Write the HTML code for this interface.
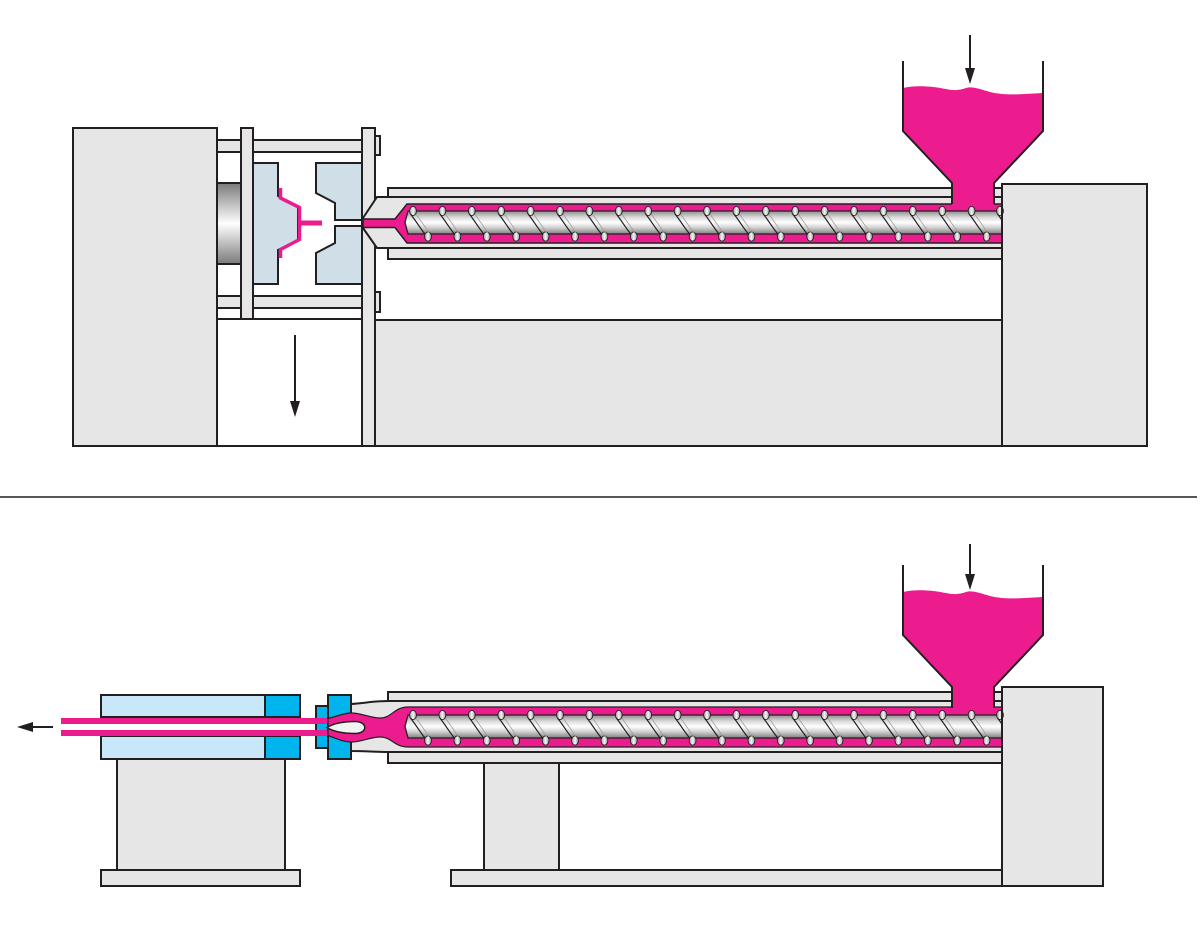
<!DOCTYPE html>
<html><head><meta charset="utf-8"><style>
html,body{margin:0;padding:0;background:#fff;}
svg{display:block;}
</style></head><body>
<svg width="1200" height="935" viewBox="0 0 1200 935" xmlns="http://www.w3.org/2000/svg">
<defs>
<linearGradient id="scr" x1="0" y1="0" x2="0" y2="1">
<stop offset="0" stop-color="#8c8c8c"/><stop offset="0.28" stop-color="#dcdcdc"/><stop offset="0.5" stop-color="#ffffff"/><stop offset="0.72" stop-color="#d2d2d2"/><stop offset="1" stop-color="#808080"/>
</linearGradient>
<linearGradient id="cyl" x1="0" y1="0" x2="0" y2="1">
<stop offset="0" stop-color="#7a7a7a"/><stop offset="0.5" stop-color="#ffffff"/><stop offset="1" stop-color="#7a7a7a"/>
</linearGradient>
<linearGradient id="tip" x1="0" y1="0" x2="1" y2="0">
<stop offset="0" stop-color="#9a9a9a"/><stop offset="0.5" stop-color="#f4f4f4"/><stop offset="1" stop-color="#9a9a9a"/>
</linearGradient>
<g id="screw">
<path d="M408,211 L1002,211 L1002,234 L408,234 L405,222.5 Z" fill="url(#scr)" stroke="#231f20" stroke-width="1.3"/>
<g stroke="#231f20" stroke-width="0.9" fill="url(#tip)">
<ellipse cx="413" cy="211" rx="3.4" ry="4.6"/><ellipse cx="428" cy="236.5" rx="3.4" ry="4.6"/>
<ellipse cx="442.4" cy="211" rx="3.4" ry="4.6"/><ellipse cx="457.4" cy="236.5" rx="3.4" ry="4.6"/>
<ellipse cx="471.8" cy="211" rx="3.4" ry="4.6"/><ellipse cx="486.8" cy="236.5" rx="3.4" ry="4.6"/>
<ellipse cx="501.2" cy="211" rx="3.4" ry="4.6"/><ellipse cx="516.2" cy="236.5" rx="3.4" ry="4.6"/>
<ellipse cx="530.6" cy="211" rx="3.4" ry="4.6"/><ellipse cx="545.6" cy="236.5" rx="3.4" ry="4.6"/>
<ellipse cx="560" cy="211" rx="3.4" ry="4.6"/><ellipse cx="575" cy="236.5" rx="3.4" ry="4.6"/>
<ellipse cx="589.4" cy="211" rx="3.4" ry="4.6"/><ellipse cx="604.4" cy="236.5" rx="3.4" ry="4.6"/>
<ellipse cx="618.8" cy="211" rx="3.4" ry="4.6"/><ellipse cx="633.8" cy="236.5" rx="3.4" ry="4.6"/>
<ellipse cx="648.2" cy="211" rx="3.4" ry="4.6"/><ellipse cx="663.2" cy="236.5" rx="3.4" ry="4.6"/>
<ellipse cx="677.6" cy="211" rx="3.4" ry="4.6"/><ellipse cx="692.6" cy="236.5" rx="3.4" ry="4.6"/>
<ellipse cx="707" cy="211" rx="3.4" ry="4.6"/><ellipse cx="722" cy="236.5" rx="3.4" ry="4.6"/>
<ellipse cx="736.4" cy="211" rx="3.4" ry="4.6"/><ellipse cx="751.4" cy="236.5" rx="3.4" ry="4.6"/>
<ellipse cx="765.8" cy="211" rx="3.4" ry="4.6"/><ellipse cx="780.8" cy="236.5" rx="3.4" ry="4.6"/>
<ellipse cx="795.2" cy="211" rx="3.4" ry="4.6"/><ellipse cx="810.2" cy="236.5" rx="3.4" ry="4.6"/>
<ellipse cx="824.6" cy="211" rx="3.4" ry="4.6"/><ellipse cx="839.6" cy="236.5" rx="3.4" ry="4.6"/>
<ellipse cx="854" cy="211" rx="3.4" ry="4.6"/><ellipse cx="869" cy="236.5" rx="3.4" ry="4.6"/>
<ellipse cx="883.4" cy="211" rx="3.4" ry="4.6"/><ellipse cx="898.4" cy="236.5" rx="3.4" ry="4.6"/>
<ellipse cx="912.8" cy="211" rx="3.4" ry="4.6"/><ellipse cx="927.8" cy="236.5" rx="3.4" ry="4.6"/>
<ellipse cx="942.2" cy="211" rx="3.4" ry="4.6"/><ellipse cx="957.2" cy="236.5" rx="3.4" ry="4.6"/>
<ellipse cx="971.6" cy="211" rx="3.4" ry="4.6"/><ellipse cx="986.6" cy="236.5" rx="3.4" ry="4.6"/>
<ellipse cx="1000" cy="211" rx="3.4" ry="4.6"/>
</g>
<g stroke="#231f20" stroke-width="1.2" fill="none">
<path d="M410.5,214 C416,221 420,228 425,234"/><path d="M439.9,214 C445.4,221 449.4,228 454.4,234"/>
<path d="M469.3,214 C474.8,221 478.8,228 483.8,234"/><path d="M498.7,214 C504.2,221 508.2,228 513.2,234"/>
<path d="M528.1,214 C533.6,221 537.6,228 542.6,234"/><path d="M557.5,214 C563,221 567,228 572,234"/>
<path d="M586.9,214 C592.4,221 596.4,228 601.4,234"/><path d="M616.3,214 C621.8,221 625.8,228 630.8,234"/>
<path d="M645.7,214 C651.2,221 655.2,228 660.2,234"/><path d="M675.1,214 C680.6,221 684.6,228 689.6,234"/>
<path d="M704.5,214 C710,221 714,228 719,234"/><path d="M733.9,214 C739.4,221 743.4,228 748.4,234"/>
<path d="M763.3,214 C768.8,221 772.8,228 777.8,234"/><path d="M792.7,214 C798.2,221 802.2,228 807.2,234"/>
<path d="M822.1,214 C827.6,221 831.6,228 836.6,234"/><path d="M851.5,214 C857,221 861,228 866,234"/>
<path d="M880.9,214 C886.4,221 890.4,228 895.4,234"/><path d="M910.3,214 C915.8,221 919.8,228 924.8,234"/>
<path d="M939.7,214 C945.2,221 949.2,228 954.2,234"/><path d="M969.1,214 C974.6,221 978.6,228 983.6,234"/>
<path d="M997.5,214 C1000,217 1001,219 1002,220"/>
</g>
<g stroke="#9a9a9a" stroke-width="0.7" fill="none">
<path d="M416,214 L430,234"/><path d="M445.4,214 L459.4,234"/><path d="M474.8,214 L488.8,234"/><path d="M504.2,214 L518.2,234"/>
<path d="M533.6,214 L547.6,234"/><path d="M563,214 L577,234"/><path d="M592.4,214 L606.4,234"/><path d="M621.8,214 L635.8,234"/>
<path d="M651.2,214 L665.2,234"/><path d="M680.6,214 L694.6,234"/><path d="M710,214 L724,234"/><path d="M739.4,214 L753.4,234"/>
<path d="M768.8,214 L782.8,234"/><path d="M798.2,214 L812.2,234"/><path d="M827.6,214 L841.6,234"/><path d="M857,214 L871,234"/>
<path d="M886.4,214 L900.4,234"/><path d="M915.8,214 L929.8,234"/><path d="M945.2,214 L959.2,234"/><path d="M974.6,214 L988.6,234"/>
</g>
</g>
<g id="hopper">
<path d="M903,88 C915,85 932,86 946,89 C955,91 960,90 966,88 C972,86 980,89 990,92 C1005,96 1025,94 1043,93 L1043,131 L994,183 L994,205 L952,205 L952,183 L903,131 Z" fill="#ec1c8f"/>
<path d="M903,61 L903,131 L952,183 L952,204 M1043,61 L1043,131 L994,183 L994,204" fill="none" stroke="#231f20" stroke-width="2"/>
</g>
</defs>

<g stroke="#231f20" stroke-width="2">
<!-- ================= TOP ================= -->
<rect x="73" y="128" width="144" height="318" fill="#e6e6e6"/>
<rect x="217" y="319" width="145" height="127" fill="#fff"/>
<rect x="217" y="140" width="145" height="12" fill="#e6e6e6"/>
<rect x="217" y="296" width="145" height="12" fill="#e6e6e6"/>
<rect x="217" y="183" width="24" height="81" fill="url(#cyl)"/>
<rect x="241" y="128" width="12" height="191" fill="#e6e6e6"/>
<path d="M253,163 L278,163 L278,196 L298,207 L298,240 L278,250 L278,284 L253,284 Z" fill="#cfdee7"/>
<path d="M316,163 L362,163 L362,220 L335,220 L335,203 L316,193 Z" fill="#cfdee7"/>
<path d="M316,284 L362,284 L362,226 L335,226 L335,243 L316,253 Z" fill="#cfdee7"/>
<rect x="375" y="136" width="5" height="19" fill="#e6e6e6"/>
<rect x="375" y="292" width="5" height="20" fill="#e6e6e6"/>
<rect x="362" y="128" width="13" height="318" fill="#e6e6e6"/>
<rect x="375" y="320" width="627" height="126" fill="#e6e6e6"/>
<rect x="1002" y="184" width="145" height="262" fill="#e6e6e6"/>
<rect x="388" y="188" width="614" height="71" fill="#e6e6e6"/>
<path d="M363,218 L377,197 L1002,197 L1002,248 L377,248 L363,228 Z" fill="#e6e6e6"/>
</g>
<g fill="none" stroke="#ec1c8f">
<polyline points="280.5,188 280.5,198 299.5,207.5 299.5,239.5 280.5,249.5 280.5,258" stroke-width="3.5"/>
<line x1="300" y1="223" x2="322" y2="223" stroke-width="5"/>
</g>
<path d="M363,219 L395,219 L407,204 L1002,204 L1002,243 L407,243 L395,227.5 L363,227.5 Z" fill="#ec1c8f" stroke="#231f20" stroke-width="1.5"/>
<use href="#screw"/>
<use href="#hopper"/>
<line x1="1002" y1="184" x2="1002" y2="446" stroke="#231f20" stroke-width="2"/>
<line x1="970" y1="35" x2="970" y2="70" stroke="#231f20" stroke-width="2"/>
<polygon points="965,68 975,68 970,84" fill="#231f20"/>
<line x1="295" y1="335" x2="295" y2="403" stroke="#231f20" stroke-width="2"/>
<polygon points="290,401 300,401 295,417" fill="#231f20"/>

<line x1="0" y1="497" x2="1197" y2="497" stroke="#231f20" stroke-width="1.5"/>

<!-- ================= BOTTOM ================= -->
<g stroke="#231f20" stroke-width="2">
<rect x="117" y="759" width="168" height="111" fill="#e6e6e6"/>
<rect x="101" y="870" width="199" height="16" fill="#e6e6e6"/>
<rect x="101" y="695" width="164" height="22" fill="#c8e8f9"/>
<rect x="265" y="695" width="35" height="22" fill="#00b5ee"/>
<rect x="101" y="736" width="164" height="23" fill="#c8e8f9"/>
<rect x="265" y="736" width="35" height="23" fill="#00b5ee"/>
<rect x="484" y="763" width="75" height="107" fill="#e6e6e6"/>
<rect x="451" y="870" width="551" height="16" fill="#e6e6e6"/>
<rect x="1002" y="687" width="101" height="199" fill="#e6e6e6"/>
<rect x="388" y="692" width="614" height="71" fill="#e6e6e6"/>
<path d="M351,704 C365,703 375,701 388,701 L1002,701 L1002,752 L388,752 C375,752 365,751 351,751 Z" fill="#e6e6e6"/>
<rect x="316" y="706" width="12" height="42" fill="#00b5ee"/>
<rect x="328" y="695" width="23" height="64" fill="#00b5ee"/>
</g>
<rect x="61" y="718" width="269" height="6" fill="#ec1c8f"/>
<rect x="61" y="730" width="269" height="6" fill="#ec1c8f"/>
<path d="M328,718.5 C338,716 344,713 351,713 C362,713 370,718 380,718 C392,718 394,707 408,707 L1002,707 L1002,747 L408,747 C394,747 392,737 380,737 C370,737 362,742 351,742 C344,742 338,739 328,735.5 Z" fill="#ec1c8f" stroke="#231f20" stroke-width="1.2"/>
<path d="M327,727.5 C335,722.5 345,721.5 355,721.5 C368,721.5 368,733.5 355,733.5 C345,733.5 335,732.5 327,727.5 Z" fill="#f2f2f2" stroke="#231f20" stroke-width="1.5"/>
<g transform="translate(0,504)">
<use href="#screw"/>
<use href="#hopper"/>
</g>
<line x1="1002" y1="687" x2="1002" y2="886" stroke="#231f20" stroke-width="2"/>
<line x1="970" y1="544" x2="970" y2="576" stroke="#231f20" stroke-width="2"/>
<polygon points="965,574 975,574 970,590" fill="#231f20"/>
<line x1="31" y1="727" x2="53" y2="727" stroke="#231f20" stroke-width="2"/>
<polygon points="17,727 33,722 33,732" fill="#231f20"/>
</svg>
</body></html>
